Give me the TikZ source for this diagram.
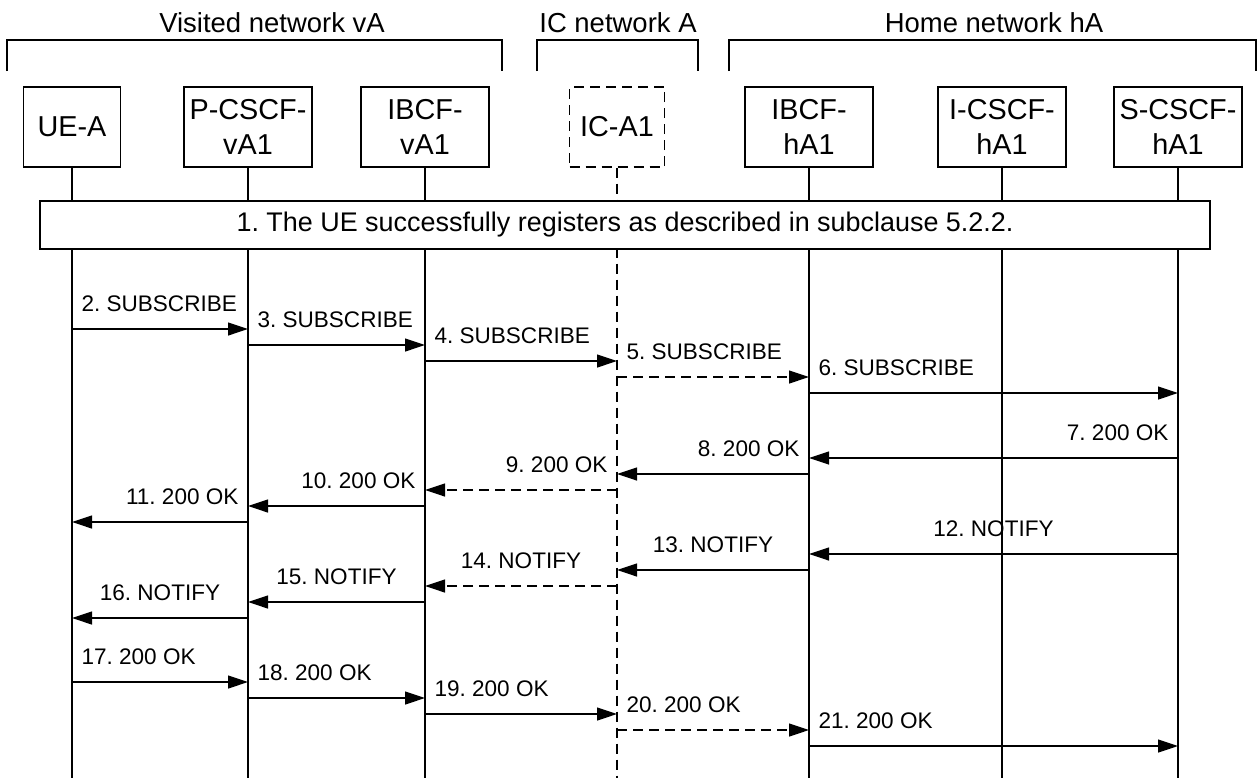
\documentclass[tikz,border=0pt]{standalone}
\usepackage{fontspec}
\setmainfont{Liberation Sans}
\usetikzlibrary{arrows.meta}
\frenchspacing
\tikzset{
  ent/.style={draw,minimum height=60pt,inner sep=0pt,align=center,font=\fontsize{21.6}{26}\selectfont},
  net/.style={anchor=base,inner sep=0pt,font=\fontsize{20.6}{24}\selectfont},
  lbl/.style={inner sep=0pt,font=\fontsize{16.9}{20}\selectfont},
  msg/.style={-{Triangle[length=15pt,width=9.75pt]}},
  icdash/.style={dash pattern=on 7.5pt off 4.5pt},
  fwd/.style={lbl,pos=0,anchor=base west,xshift=6.75pt,yshift=13.1pt},
  bwd/.style={lbl,pos=0,anchor=base east,xshift=-6.75pt,yshift=13.1pt},
  mid/.style={lbl,midway,anchor=base,yshift=13.1pt}
}
\begin{document}
\begin{tikzpicture}[x=0.75pt,y=-0.75pt,line width=0.9pt]
	\useasboundingbox (0,0) rectangle (1260,778);
	\node[net] (vnet) at (272,32) {Visited network vA};
	\node[net] (inet) at (618,32) {IC network A};
	\node[net] (hnet) at (994,32) {Home network hA};
	\draw (7,71)--(7,40)--(502,40)--(502,71);
	\draw (537,71)--(537,40)--(698,40)--(698,71);
	\draw (729,71)--(729,40)--(1256,40)--(1256,71);
	\node[ent,minimum width=72.75pt] (ue) at (72,127) {UE-A};
	\node[ent,minimum width=96pt] (pcv) at (248,127) {P-CSCF-\\vA1};
	\node[ent,minimum width=96pt] (ibv) at (425,127) {IBCF-\\vA1};
	\node[ent,icdash,minimum width=71.25pt] (ica) at (617,127) {IC-A1};
	\node[ent,minimum width=96pt] (ibh) at (809,127) {IBCF-\\hA1};
	\node[ent,minimum width=96pt] (ich) at (1002,127) {I-CSCF-\\hA1};
	\node[ent,minimum width=96pt] (sch) at (1178,127) {S-CSCF-\\hA1};
	\foreach \n in {ue,pcv,ibv,ibh,ich,sch}
		\draw (\n.south)--(\n.south |- 0,778);
	\draw[icdash] (ica.south)--(ica.south |- 0,778);
	\node[draw,fill=white,inner sep=0pt,font=\fontsize{20.2}{24}\selectfont,minimum width=877.5pt,minimum height=36pt] (reg) at (625,225)
		{1. The UE successfully registers as described in subclause 5.2.2.};
	\draw[msg] (ue |- 0,329)--(pcv |- 0,329) node[fwd] (m2) {2. SUBSCRIBE};
	\draw[msg] (pcv |- 0,345)--(ibv |- 0,345) node[fwd] (m3) {3. SUBSCRIBE};
	\draw[msg] (ibv |- 0,361)--(ica |- 0,361) node[fwd] (m4) {4. SUBSCRIBE};
	\draw[msg,icdash] (ica |- 0,377)--(ibh |- 0,377) node[fwd] (m5) {5. SUBSCRIBE};
	\draw[msg] (ibh |- 0,393)--(sch |- 0,393) node[fwd] (m6) {6. SUBSCRIBE};
	\draw[msg] (sch |- 0,458)--(ibh |- 0,458) node[bwd] (m7) {7. 200 OK};
	\draw[msg] (ibh |- 0,474)--(ica |- 0,474) node[bwd] (m8) {8. 200 OK};
	\draw[msg,icdash] (ica |- 0,490)--(ibv |- 0,490) node[bwd] (m9) {9. 200 OK};
	\draw[msg] (ibv |- 0,506)--(pcv |- 0,506) node[bwd] (m10) {10. 200 OK};
	\draw[msg] (pcv |- 0,522)--(ue |- 0,522) node[bwd] (m11) {11. 200 OK};
	\draw[msg] (sch |- 0,554)--(ibh |- 0,554) node[mid] (m12) {12. NOTIFY};
	\draw[msg] (ibh |- 0,570)--(ica |- 0,570) node[mid] (m13) {13. NOTIFY};
	\draw[msg,icdash] (ica |- 0,586)--(ibv |- 0,586) node[mid] (m14) {14. NOTIFY};
	\draw[msg] (ibv |- 0,602)--(pcv |- 0,602) node[mid] (m15) {15. NOTIFY};
	\draw[msg] (pcv |- 0,618)--(ue |- 0,618) node[mid] (m16) {16. NOTIFY};
	\draw[msg] (ue |- 0,682)--(pcv |- 0,682) node[fwd] (m17) {17. 200 OK};
	\draw[msg] (pcv |- 0,698)--(ibv |- 0,698) node[fwd] (m18) {18. 200 OK};
	\draw[msg] (ibv |- 0,714)--(ica |- 0,714) node[fwd] (m19) {19. 200 OK};
	\draw[msg,icdash] (ica |- 0,730)--(ibh |- 0,730) node[fwd] (m20) {20. 200 OK};
	\draw[msg] (ibh |- 0,746)--(sch |- 0,746) node[fwd] (m21) {21. 200 OK};
\end{tikzpicture}
\end{document}
